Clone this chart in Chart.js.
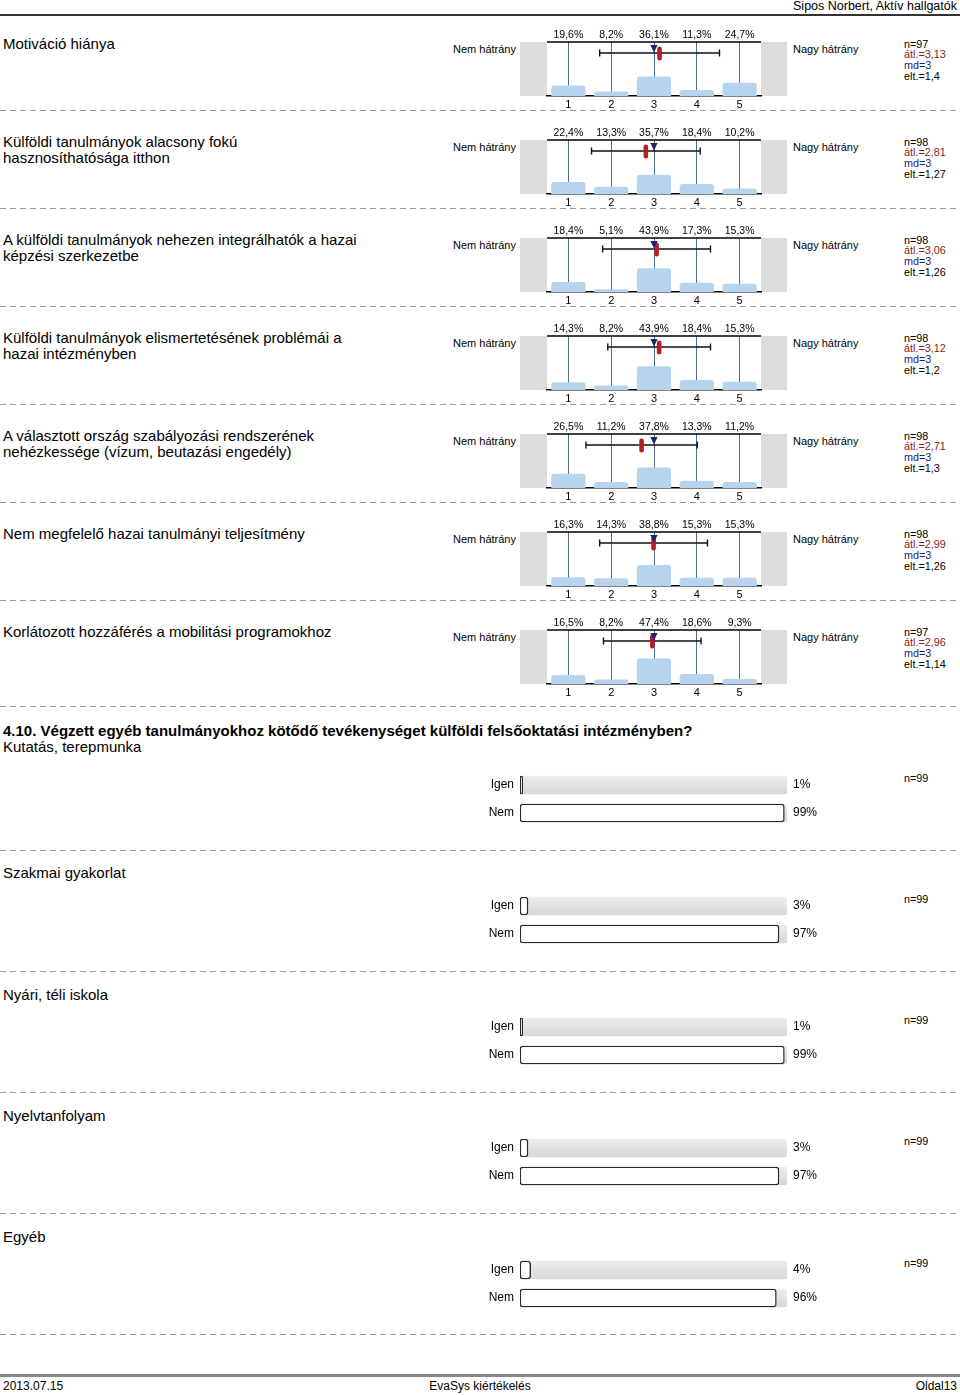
<!DOCTYPE html>
<html><head><meta charset="utf-8">
<script src="https://cdn.jsdelivr.net/npm/chart.js@4.4.0/dist/chart.umd.min.js"></script>
<style>
html,body{margin:0;padding:0;background:#fff;}
body{width:960px;height:1395px;position:relative;overflow:hidden;font-family:"Liberation Sans",Arial,sans-serif;color:#000;}
.t{position:absolute;white-space:nowrap;}
canvas{position:absolute;}
.dash{position:absolute;left:0;width:960px;height:1px;background:repeating-linear-gradient(to right,#9a9a9a 0 6px,transparent 6px 10px);}
.line{position:absolute;left:0;width:960px;}
</style></head><body>
<script>
const FONT = '"Liberation Sans", Arial, sans-serif';

// ---------- DATA ----------
const headerText = 'Sipos Norbert, Aktív hallgatók';
const footerLeft = '2013.07.15';
const footerCenter = 'EvaSys kiértékelés';
const footerRight = 'Oldal13';

const histTitles = [
  'Motiváció hiánya',
  'Külföldi tanulmányok alacsony fokú\nhasznosíthatósága itthon',
  'A külföldi tanulmányok nehezen integrálhatók a hazai\nképzési szerkezetbe',
  'Külföldi tanulmányok elismertetésének problémái a\nhazai intézményben',
  'A választott ország szabályozási rendszerének\nnehézkessége (vízum, beutazási engedély)',
  'Nem megfelelő hazai tanulmányi teljesítmény',
  'Korlátozott hozzáférés a mobilitási programokhoz'
];
const scaleLabels = ['1', '2', '3', '4', '5'];
const leftPole = 'Nem hátrány';
const rightPole = 'Nagy hátrány';
const histPercents = [
  [19.6, 8.2, 36.1, 11.3, 24.7],
  [22.4, 13.3, 35.7, 18.4, 10.2],
  [18.4, 5.1, 43.9, 17.3, 15.3],
  [14.3, 8.2, 43.9, 18.4, 15.3],
  [26.5, 11.2, 37.8, 13.3, 11.2],
  [16.3, 14.3, 38.8, 15.3, 15.3],
  [16.5, 8.2, 47.4, 18.6, 9.3]
];
const histN = [97, 98, 98, 98, 98, 98, 97];
const histMean = [3.13, 2.81, 3.06, 3.12, 2.71, 2.99, 2.96];
const histMedian = [3, 3, 3, 3, 3, 3, 3];
const histSd = [1.4, 1.27, 1.26, 1.2, 1.3, 1.26, 1.14];

const questionHeading = '4.10. Végzett egyéb tanulmányokhoz kötődő tevékenységet külföldi felsőoktatási intézményben?';
const ynTitles = ['Kutatás, terepmunka', 'Szakmai gyakorlat', 'Nyári, téli iskola', 'Nyelvtanfolyam', 'Egyéb'];
const ynLabels = ['Igen', 'Nem'];
const ynYes = [1, 3, 1, 3, 4];
const ynNo = [99, 97, 99, 97, 96];
const ynN = [99, 99, 99, 99, 99];

// ---------- LAYOUT ----------
const fmt = v => String(v).replace('.', ',');

// cy = vertical centre of the FIRST line
function text(str, x, cy, size, opts = {}) {
  const d = document.createElement('div');
  d.className = 't';
  const lh = opts.lh || Math.round(size * 1.1);
  d.style.fontSize = size + 'px';
  d.style.lineHeight = lh + 'px';
  d.style.top = (cy - lh / 2) + 'px';
  if (opts.right !== undefined) d.style.right = opts.right + 'px';
  else if (opts.center) { d.style.left = (x - 200) + 'px'; d.style.width = '400px'; d.style.textAlign = 'center'; }
  else d.style.left = x + 'px';
  if (opts.color) d.style.color = opts.color;
  if (opts.bold) d.style.fontWeight = 'bold';
  if (opts.html) d.innerHTML = str; else d.textContent = str;
  document.body.appendChild(d);
  return d;
}
function hline(y, cls, style) {
  const d = document.createElement('div');
  d.className = cls;
  d.style.top = y + 'px';
  Object.assign(d.style, style || {});
  document.body.appendChild(d);
}
function canvasAt(x, y, w, h) {
  const c = document.createElement('canvas');
  c.width = w; c.height = h;
  c.style.left = x + 'px'; c.style.top = y + 'px';
  c.style.width = w + 'px'; c.style.height = h + 'px';
  document.body.appendChild(c);
  return c;
}

// header / footer
text(headerText, 0, 6, 12.5, { right: 3 });
hline(14, 'line', { height: '1.5px', background: '#333' });
hline(1374, 'line', { height: '2.5px', background: '#888' });
text(footerLeft, 3, 1386, 12);
text(footerCenter, 480, 1386, 12, { center: true });
text(footerRight, 0, 1386, 12, { right: 3 });

[110, 208, 306, 404, 502, 600, 706, 850, 971, 1092, 1213, 1334].forEach(y => hline(y, 'dash'));

// ---------- HISTOGRAM PLUGIN ----------
const histPlugin = {
  id: 'hist',
  beforeDraw(chart) {
    const { ctx, chartArea: a, width } = chart;
    ctx.save();
    ctx.fillStyle = '#dcdcdc';
    ctx.fillRect(0, a.top, a.left, a.bottom - a.top);
    ctx.fillRect(a.right, a.top, width - a.right, a.bottom - a.top);
    ctx.restore();
  },
  afterDraw(chart) {
    const o = chart.options.plugins.hist;
    const { ctx, chartArea: a } = chart;
    const xs = chart.scales.x;
    const p0 = xs.getPixelForValue(0), step = xs.getPixelForValue(1) - p0;
    const px = v => p0 + (v - 1) * step;
    ctx.save();
    ctx.strokeStyle = '#000'; ctx.lineWidth = 1.5;
    ctx.beginPath(); ctx.moveTo(a.left, a.top); ctx.lineTo(a.right, a.top); ctx.stroke();
    ctx.fillStyle = '#000'; ctx.font = '10.5px ' + FONT;
    ctx.textAlign = 'center'; ctx.textBaseline = 'middle';
    chart.data.datasets[0].data.forEach((v, i) => ctx.fillText(fmt(v) + '%', xs.getPixelForValue(i), a.top - 7));
    // error bar
    const ey = a.top + 11;
    const x1 = px(o.mean - o.sd), x2 = px(o.mean + o.sd);
    ctx.strokeStyle = '#111'; ctx.lineWidth = 1.4;
    ctx.beginPath();
    ctx.moveTo(x1, ey); ctx.lineTo(x2, ey);
    ctx.moveTo(x1, ey - 3.5); ctx.lineTo(x1, ey + 3.5);
    ctx.moveTo(x2, ey - 3.5); ctx.lineTo(x2, ey + 3.5);
    ctx.stroke();
    // mean marker
    const mn = px(o.mean);
    ctx.fillStyle = '#b31f26';
    ctx.beginPath();
    ctx.roundRect(mn - 2.3, a.top + 4.5, 4.6, 14, 2.3);
    ctx.fill();
    // median triangle
    const md = px(o.median);
    ctx.fillStyle = '#1a2668';
    ctx.beginPath();
    ctx.moveTo(md - 3.6, a.top + 3); ctx.lineTo(md + 3.6, a.top + 3); ctx.lineTo(md, a.top + 10.5);
    ctx.closePath(); ctx.fill();
    ctx.restore();
  }
};

histTitles.forEach((title, k) => {
  const off = 98 * k;
  const lines = title.split('\n');
  text(lines.join('<br>'), 3, 44 + off, 15, { lh: 16, html: true });
  text(leftPole, 453, 49 + off, 11);
  text(rightPole, 793, 49 + off, 11);
  text('n=' + histN[k] + '<br><span style="color:#8a1c1c">átl.=' + fmt(histMean[k]) +
       '</span><br><span style="color:#1c2470">md=' + fmt(histMedian[k]) +
       '</span><br>elt.=' + fmt(histSd[k]), 904, 44 + off, 10.8, { lh: 10.7, html: true });

  const c = canvasAt(520, 24 + off, 267, 86);
  new Chart(c, {
    type: 'bar',
    data: {
      labels: scaleLabels,
      datasets: [{
        data: histPercents[k],
        backgroundColor: '#b7d4ee',
        borderWidth: 0,
        borderRadius: { topLeft: 3, topRight: 3 },
        borderSkipped: 'bottom',
        barPercentage: 0.8,
        categoryPercentage: 1
      }]
    },
    options: {
      responsive: false, animation: false, devicePixelRatio: 1,
      layout: { padding: { top: 18, left: 27, right: 26, bottom: 0 } },
      plugins: {
        legend: { display: false }, tooltip: { enabled: false },
        hist: { mean: histMean[k], median: histMedian[k], sd: histSd[k] }
      },
      scales: {
        x: {
          type: 'category', offset: true, z: 1,
          grid: { offset: false, color: '#4b6f92', lineWidth: 1, drawTicks: false },
          border: { display: true, color: '#000', width: 1.5 },
          ticks: { font: { size: 11, family: FONT }, color: '#000', padding: 2, maxRotation: 0, autoSkip: false },
          afterFit: s => { s.height = 14; s.paddingLeft = 0; s.paddingRight = 0; }
        },
        y: { display: false, min: 0, max: 100 }
      }
    },
    plugins: [histPlugin]
  });
});

// ---------- YES / NO SECTION ----------
text(questionHeading, 3, 731, 15, { bold: true, lh: 16 });

const ynPlugin = {
  id: 'yn',
  afterDraw(chart) {
    const { ctx, chartArea: a } = chart;
    const ys = chart.scales.y;
    ctx.save();
    ctx.font = '12px ' + FONT; ctx.fillStyle = '#000';
    ctx.textBaseline = 'middle'; ctx.textAlign = 'left';
    chart.data.datasets[0].data.forEach((v, i) => ctx.fillText(v + '%', a.right + 6, ys.getPixelForValue(i)));
    ctx.restore();
  }
};

const ynTitleY = [747, 873, 995, 1116, 1237];
const ynRowY = [785, 906, 1027, 1148, 1270];
ynTitles.forEach((title, k) => {
  text(title, 3, ynTitleY[k], 15, { lh: 16 });
  text('n=' + ynN[k], 904, ynRowY[k] - 7, 10.8);
  const c = canvasAt(470, ynRowY[k] - 14, 370, 56);
  new Chart(c, {
    type: 'bar',
    data: {
      labels: ynLabels,
      datasets: [
        {
          data: [ynYes[k], ynNo[k]],
          backgroundColor: '#ffffff', borderColor: '#2a2a2a', borderWidth: 1.4,
          borderRadius: 3, borderSkipped: false, grouped: false, order: 0,
          barThickness: 18
        },
        {
          data: [100, 100],
          backgroundColor: (ctx) => {
            const ch = ctx.chart;
            if (!ch.chartArea || ctx.dataIndex === undefined) return '#e2e2e2';
            const y = ch.scales.y.getPixelForValue(ctx.dataIndex);
            const g = ch.ctx.createLinearGradient(0, y - 9, 0, y + 9);
            g.addColorStop(0, '#ededed'); g.addColorStop(1, '#d7d7d7');
            return g;
          },
          borderWidth: 0, borderRadius: 3, borderSkipped: false, grouped: false, order: 1,
          barThickness: 18
        }
      ]
    },
    options: {
      indexAxis: 'y',
      responsive: false, animation: false, devicePixelRatio: 1,
      layout: { padding: { top: 0, bottom: 0, left: 0, right: 53 } },
      plugins: { legend: { display: false }, tooltip: { enabled: false } },
      scales: {
        x: { display: false, min: 0, max: 100 },
        y: {
          type: 'category',
          grid: { display: false, drawTicks: false },
          border: { display: false },
          ticks: { font: { size: 12, family: FONT }, color: '#000', padding: 6 },
          afterFit: s => { s.width = 50; s.paddingTop = 0; s.paddingBottom = 0; }
        }
      }
    },
    plugins: [ynPlugin]
  });
});
</script>
</body></html>
